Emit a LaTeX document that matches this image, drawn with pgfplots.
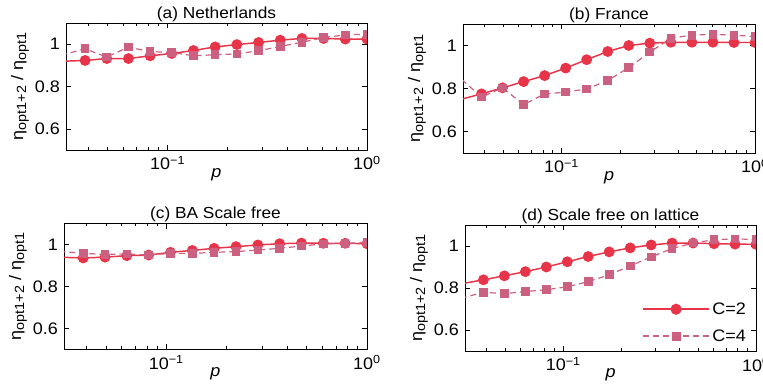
\documentclass[border=0pt]{standalone}
\usepackage{pgfplots}
\pgfplotsset{compat=1.18}
\usepackage{fontspec}
\setmainfont{Liberation Sans}[FakeStretch=1.08]
\definecolor{cred}{RGB}{232,52,72}
\definecolor{cpink}{RGB}{204,96,128}
\newcommand{\sub}[1]{\raisebox{-0.35ex}{\fontsize{10}{10}\selectfont #1}}
\pgfplotsset{
  every axis title shift=0pt,
  panel/.style={
    scale only axis, xmin=0.0309, xmax=1, ymin=0.5, ymax=1.1,
    ytick={0.6,0.8,1}, yticklabels={0.6,0.8,1},
    xtick={0.1,1}, xticklabels={10\textsuperscript{−1},10\textsuperscript{0}},
    minor xtick={0.04,0.05,0.06,0.07,0.08,0.09,0.2,0.3,0.4,0.5,0.6,0.7,0.8,0.9},
    clip marker paths=true,
    axis line style={line width=0.7pt},
    tick style={black, line width=0.5pt},
    major tick length=4pt, minor tick length=2.2pt,
    xlabel={\textit{p}},
    xlabel style={at={(axis description cs:0.5,-0.213)}, anchor=base},
    ylabel={η\sub{opt1+2} / η\sub{opt1}},
    ylabel style={inner sep=1pt},
    title style={anchor=base, yshift=3.5pt, at={(axis description cs:0.5,1)}, font=\fontsize{12}{13}\selectfont},
    yticklabel style={xshift=-1pt},
    xticklabel style={yshift=-1pt},
  },
  ctwo/.style={color=cred, line width=1.1pt, mark=*, mark size=3.5pt, mark options={solid, fill=cred}},
  cfour/.style={color=cpink, line width=0.9pt, dash pattern=on 4.5pt off 3pt, mark=square*, mark size=2.8pt, mark options={solid, fill=cpink}},
}
\begin{document}
\begin{tikzpicture}[font=\fontsize{12.5}{14}\selectfont]
\useasboundingbox (0,0) rectangle (572.25pt,292.5pt);
% (a)
\begin{semilogxaxis}[panel, at={(49.5pt,180pt)}, anchor=south west, width=225.75pt, height=95.25pt, title={(a) Netherlands}]
\addplot[ctwo] coordinates {(0.02333,0.916)(0.03851,0.923)(0.04948,0.932)(0.06357,0.932)(0.08166,0.945)(0.1049,0.956)(0.1347,0.970)(0.1731,0.987)(0.2224,0.998)(0.2858,1.008)(0.3671,1.019)(0.4716,1.027)(0.6059,1.027)(0.7784,1.024)(1,1.024)};
\addplot[cfour] coordinates {(0.02333,0.923)(0.03851,0.978)(0.04948,0.939)(0.06357,0.986)(0.08166,0.965)(0.1049,0.961)(0.1347,0.945)(0.1731,0.950)(0.2224,0.954)(0.2858,0.969)(0.3671,0.989)(0.4716,1.009)(0.6059,1.031)(0.7784,1.044)(1,1.047)};
\end{semilogxaxis}
% (b)
\begin{semilogxaxis}[panel, at={(347.25pt,177.75pt)}, anchor=south west, width=219pt, height=96.75pt, title={(b) France}]
\addplot[ctwo] coordinates {(0.02333,0.723)(0.03851,0.775)(0.04948,0.803)(0.06357,0.832)(0.08166,0.860)(0.1049,0.895)(0.1347,0.934)(0.1731,0.972)(0.2224,1.000)(0.2858,1.011)(0.3671,1.015)(0.4716,1.015)(0.6059,1.015)(0.7784,1.014)(1,1.014)};
\addplot[cfour] coordinates {(0.02333,0.935)(0.03851,0.760)(0.04948,0.803)(0.06357,0.725)(0.08166,0.775)(0.1049,0.783)(0.1347,0.798)(0.1731,0.837)(0.2224,0.897)(0.2858,0.969)(0.3671,1.034)(0.4716,1.048)(0.6059,1.052)(0.7784,1.048)(1,1.042)};
\end{semilogxaxis}
% (c)
\begin{semilogxaxis}[panel, at={(48pt,30.5pt)}, anchor=south west, width=227.25pt, height=94.5pt, title={(c) BA Scale free}]
\addplot[ctwo] coordinates {(0.02333,0.942)(0.03851,0.935)(0.04948,0.939)(0.06357,0.946)(0.08166,0.949)(0.1049,0.962)(0.1347,0.971)(0.1731,0.981)(0.2224,0.989)(0.2858,0.997)(0.3671,1.003)(0.4716,1.006)(0.6059,1.005)(0.7784,1.005)(1,1.003)};
\addplot[cfour] coordinates {(0.02333,0.975)(0.03851,0.957)(0.04948,0.952)(0.06357,0.954)(0.08166,0.949)(0.1049,0.957)(0.1347,0.957)(0.1731,0.962)(0.2224,0.965)(0.2858,0.973)(0.3671,0.981)(0.4716,0.992)(0.6059,1.002)(0.7784,1.005)(1,1.008)};
\end{semilogxaxis}
% (d)
\begin{semilogxaxis}[panel, at={(348.75pt,29.25pt)}, anchor=south west, width=218.25pt, height=94.5pt, title={(d) Scale free on lattice},
  legend style={draw=none, fill=none, at={(axis description cs:0.975,0.04)}, anchor=south east, row sep=6pt, inner sep=0pt},
  legend cell align=left]
\addlegendimage{color=cred, line width=1.3pt, mark=*, mark size=3.5pt, mark options={solid, fill=cred}, legend image code/.code={\draw[mark repeat=2,mark phase=2,color=cred, line width=1.3pt] plot coordinates {(0pt,0pt) (24.5pt,0pt) (49pt,0pt)};}}
\addlegendentry{C=2}
\addlegendimage{color=cpink, line width=1.1pt, mark=square*, mark size=2.8pt, mark options={solid, fill=cpink}, legend image code/.code={\draw[mark repeat=2,mark phase=2,color=cpink, line width=1.1pt, dash pattern=on 4.5pt off 3pt] plot coordinates {(0pt,0pt) (24.5pt,0pt) (49pt,0pt)};}}
\addlegendentry{C=4}
\addplot[ctwo] coordinates {(0.02333,0.803)(0.03851,0.839)(0.04948,0.858)(0.06357,0.878)(0.08166,0.900)(0.1049,0.925)(0.1347,0.950)(0.1731,0.972)(0.2224,0.991)(0.2858,1.005)(0.3671,1.014)(0.4716,1.014)(0.6059,1.011)(0.7784,1.009)(1,1.008)};
\addplot[cfour] coordinates {(0.02333,0.725)(0.03851,0.780)(0.04948,0.773)(0.06357,0.783)(0.08166,0.792)(0.1049,0.806)(0.1347,0.830)(0.1731,0.863)(0.2224,0.905)(0.2858,0.948)(0.3671,0.988)(0.4716,1.014)(0.6059,1.030)(0.7784,1.034)(1,1.031)};
\end{semilogxaxis}
\end{tikzpicture}
\end{document}
